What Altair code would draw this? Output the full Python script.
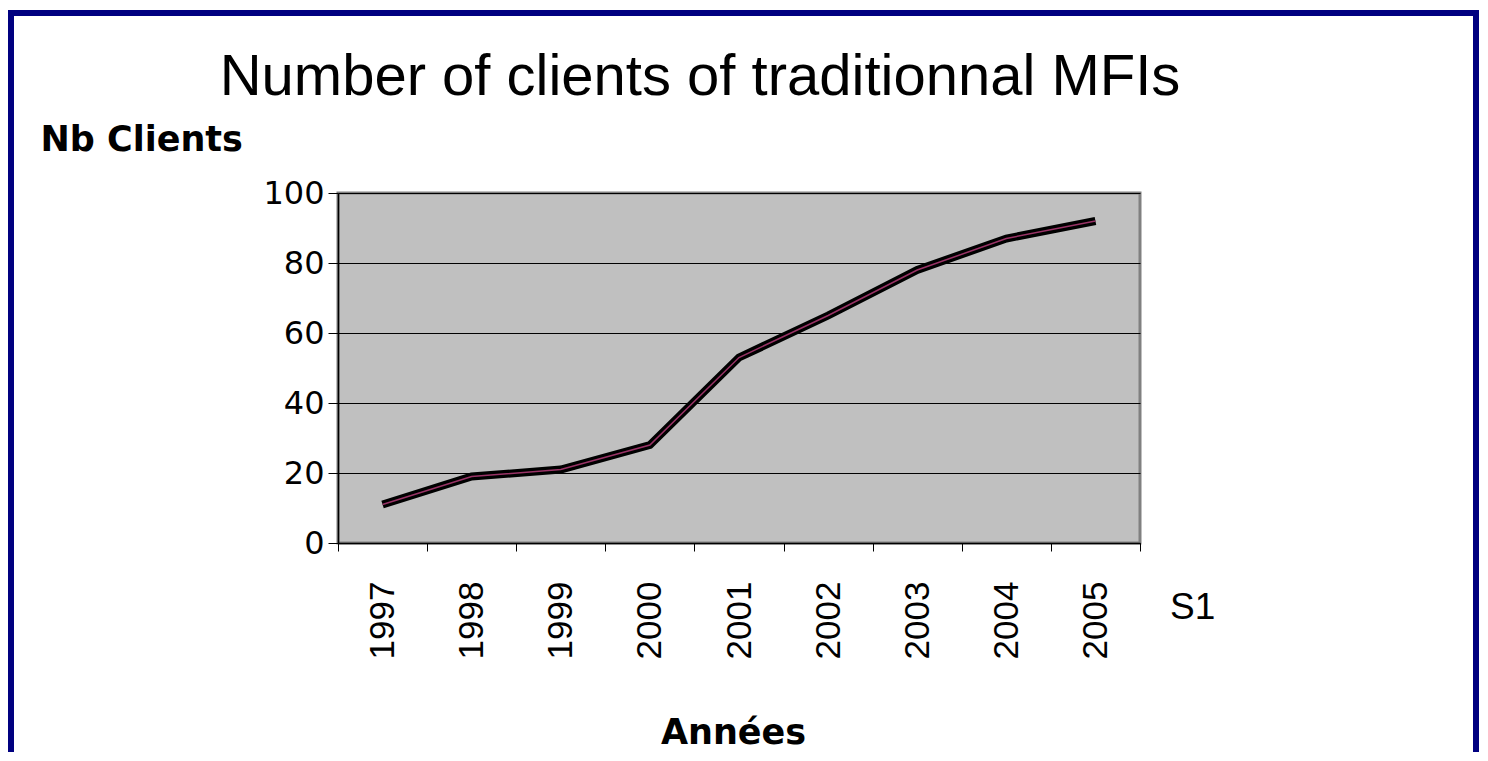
import altair as alt
import pandas as pd

years = ["1997", "1998", "1999", "2000", "2001", "2002", "2003", "2004", "2005"]
clients = [11, 19, 21, 28, 53, 65, 78, 87, 92]
series = ["S1"] * len(years)
y_ticks = [0, 20, 40, 60, 80, 100]
chart_title = "Number of clients of traditionnal MFIs"

df = pd.DataFrame({"year": years, "clients": clients, "series": series})

PLOT_W = 802
PLOT_H = 350
PAD_L = 330
PAD_T = 185
CANVAS_W = 1472
CANVAS_H = 744

x_scale = alt.Scale(type="band", paddingInner=0, paddingOuter=0)

x_enc = alt.X(
    "year:O",
    sort=years,
    scale=x_scale,
    bandPosition=0.5,
    axis=alt.Axis(
        title="Années",
        titleFont="DejaVu Sans",
        titleFontSize=35,
        titleFontWeight="bold",
        titleColor="black",
        titleX=395,
        titleY=200,
        titleAlign="center",
        titleBaseline="alphabetic",
        labelAngle=270,
        labelFont="Liberation Sans",
        labelFontSize=35,
        labelColor="black",
        labelPadding=30,
        tickBand="extent",
        tickColor="black",
        tickSize=8,
        domainColor="black",
        domainWidth=1.5,
        grid=False,
    ),
)

y_enc = alt.Y(
    "clients:Q",
    scale=alt.Scale(domain=[0, 100], nice=False),
    axis=alt.Axis(
        values=y_ticks,
        title="Nb Clients",
        titleFont="DejaVu Sans",
        titleFontSize=35,
        titleFontWeight="bold",
        titleColor="black",
        titleAngle=0,
        titleX=-298,
        titleY=-43,
        titleAlign="left",
        titleBaseline="alphabetic",
        labelFont="DejaVu Sans",
        labelFontSize=32,
        labelColor="black",
        labelPadding=4,
        tickColor="black",
        tickSize=10,
        domainColor="black",
        domainWidth=1.5,
        grid=True,
        gridColor="black",
        gridWidth=1,
    ),
)

base = alt.Chart(df)

ribbon = base.mark_line(strokeWidth=8, strokeJoin="miter", strokeCap="butt").encode(
    x=x_enc,
    y=y_enc,
    color=alt.Color(
        "series:N",
        scale=alt.Scale(range=["black"]),
        legend=alt.Legend(
            title=None,
            orient="none",
            legendX=791,
            legendY=396,
            symbolOpacity=0,
            symbolSize=1,
            symbolStrokeWidth=0,
            labelFont="Liberation Sans",
            labelFontSize=37,
            labelColor="black",
            labelOffset=4,
            padding=0,
        ),
    ),
)

inner = base.mark_line(strokeWidth=1.5, color="#993366", strokeCap="butt").encode(
    x=alt.X("year:O", sort=years, bandPosition=0.5),
    y=alt.Y("clients:Q"),
)

title_text = alt.Chart(pd.DataFrame({"t": [chart_title]})).mark_text(
    font="Liberation Sans",
    fontSize=58,
    color="black",
    align="center",
    baseline="alphabetic",
).encode(
    text="t:N",
    x=alt.value(362),
    y=alt.value(-98),
)

frame = alt.Chart(pd.DataFrame({"f": [0]})).mark_rect(
    fill=None, stroke="#000080", strokeWidth=6
).encode(
    x=alt.value(-327),
    x2=alt.value(1138),
    y=alt.value(-180),
    y2=alt.value(600),
)

chart = (
    alt.layer(ribbon, inner, title_text, frame)
    .properties(
        width=PLOT_W,
        height=PLOT_H,
        autosize=alt.AutoSizeParams(type="none"),
        padding={"left": PAD_L, "top": PAD_T, "right": CANVAS_W - PAD_L - PLOT_W,
                 "bottom": CANVAS_H - PAD_T - PLOT_H},
        background="white",
    )
    .configure_view(fill="#C0C0C0", stroke="#808080", strokeWidth=3)
)

chart.save("out.html", embed_options={"renderer": "svg", "actions": False})
